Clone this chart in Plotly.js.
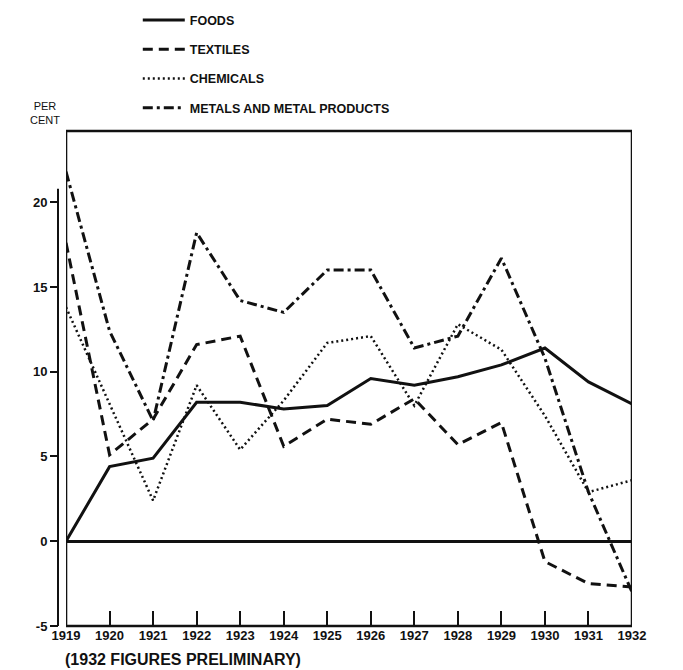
<!DOCTYPE html>
<html><head><meta charset="utf-8">
<script src="https://cdn.plot.ly/plotly-3.0.1.min.js"></script>
<style>html,body{margin:0;padding:0;background:#fff;}#chart{width:683px;height:670px;}</style>
</head><body><div id="chart"></div>
<script>
const years = [1919,1920,1921,1922,1923,1924,1925,1926,1927,1928,1929,1930,1931,1932];
const yearLabels = ['1919','1920','1921','1922','1923','1924','1925','1926','1927','1928','1929','1930','1931','1932'];
const foods     = [0.0, 4.4, 4.9, 8.2, 8.2, 7.8, 8.0, 9.6, 9.2, 9.7, 10.4, 11.4, 9.4, 8.1];
const textiles  = [17.6, 5.1, 7.2, 11.6, 12.1, 5.6, 7.2, 6.9, 8.4, 5.7, 7.0, -1.2, -2.5, -2.7];
const chemicals = [13.8, 8.1, 2.4, 9.2, 5.4, 8.3, 11.7, 12.1, 8.0, 12.8, 11.3, 7.4, 2.9, 3.6];
const metals    = [21.8, 12.4, 7.1, 18.2, 14.2, 13.5, 16.0, 16.0, 11.4, 12.1, 16.7, 10.8, 2.9, -3.0];
const seriesNames = ['FOODS','TEXTILES','CHEMICALS','METALS AND METAL PRODUCTS'];
const yTicks = [-5, 0, 5, 10, 15, 20];
const yTickLabels = ['-5','0','5','10','15','20'];

const ink = '#111';
const traces = [
  {name: seriesNames[0], x: years, y: foods, mode: 'lines', legendgroup: 'g1',
   line: {color: ink, width: 3, dash: 'solid'}},
  {name: seriesNames[1], x: years, y: textiles, mode: 'lines', legendgroup: 'g2',
   line: {color: ink, width: 3, dash: '10px,6px'}},
  {name: seriesNames[2], x: years, y: chemicals, mode: 'lines', legendgroup: 'g3',
   line: {color: ink, width: 2.5, dash: '2px,3px'}},
  {name: seriesNames[3], x: years, y: metals, mode: 'lines', legendgroup: 'g4',
   line: {color: ink, width: 3, dash: '10px,4px,3px,4px'}}
];

const layout = {
  width: 683, height: 670,
  margin: {l: 58, r: 51, t: 131, b: 44, autoexpand: false},
  paper_bgcolor: '#fff', plot_bgcolor: '#fff',
  font: {family: 'Liberation Sans, Arial, sans-serif', color: ink, size: 13},
  showlegend: true,
  legend: {x: 0.139, xanchor: 'left', y: 1.2536, yanchor: 'top',
           font: {size: 12.5, weight: 'bold', color: ink}, tracegroupgap: 10,
           itemwidth: 42,
           bgcolor: 'rgba(0,0,0,0)', traceorder: 'grouped'},
  xaxis: {domain: [0.014, 1], range: [1919, 1932], tickmode: 'array',
          tickvals: years, ticktext: yearLabels, ticks: 'inside', ticklen: 15,
          tickwidth: 2, tickcolor: ink, showgrid: false, zeroline: false,
          showline: false, tickfont: {size: 13, weight: 'bold', color: ink}},
  yaxis: {anchor: 'free', position: 0, range: [-5, 24.2], tickmode: 'array',
          tickvals: yTicks, ticktext: yTickLabels, ticks: 'outside', ticklen: 8,
          tickwidth: 2, tickcolor: ink, showgrid: false, showline: false,
          zeroline: true, zerolinewidth: 3, zerolinecolor: ink,
          tickfont: {size: 13, weight: 'bold', color: ink}},
  shapes: [
    {type: 'rect', xref: 'x', yref: 'paper', x0: 1919, x1: 1932, y0: 0, y1: 1,
     line: {color: ink, width: 2.5}, layer: 'below'},
    {type: 'line', xref: 'paper', yref: 'y', x0: 0, x1: 0, y0: -5, y1: 20.8,
     line: {color: ink, width: 2}}
  ],
  annotations: [
    {text: 'PER<br>CENT', xref: 'paper', yref: 'paper', x: -0.0226, y: 1.036,
     xanchor: 'center', yanchor: 'middle', showarrow: false,
     font: {size: 11, color: ink}},
    {text: '(1932 FIGURES PRELIMINARY)', xref: 'paper', yref: 'paper', x: 0.009, y: -0.0667,
     xanchor: 'left', yanchor: 'middle', showarrow: false,
     font: {size: 16, weight: 'bold', color: ink}}
  ]
};

Plotly.newPlot('chart', traces, layout, {displayModeBar: false, staticPlot: true});
</script>
</body></html>
